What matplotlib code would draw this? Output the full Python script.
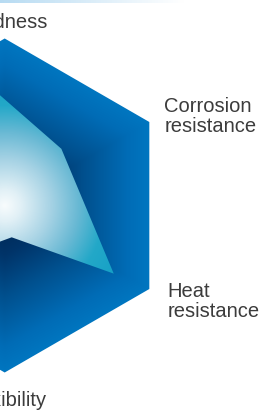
import numpy as np
import matplotlib.pyplot as plt
from matplotlib.patches import Polygon
from matplotlib.colors import LinearSegmentedColormap

plt.rcParams['font.family'] = ['Liberation Sans', 'DejaVu Sans']

# radar categories, clockwise from the top (left half of the chart is cut off in the picture)
categories = ['Hardness', 'Corrosion\nresistance', 'Heat\nresistance', 'Flexibility',
              'Strength', 'Wear\nresistance']
axis_deg = [90, 30, -30, -90, -150, 150]
outer_values = [1, 1, 1, 1, 1, 1]   # full scale

inner_deg = [101, 45, -32, -77.6, -138, 145]
inner_values = [0.78, 0.48, 0.77, 0.195, 0.52, 0.69]


def to_xy(deg, r):
    a = np.radians(deg)
    return np.column_stack([np.array(r) * np.cos(a), np.array(r) * np.sin(a)])


fig = plt.figure(figsize=(2.66, 4.13), dpi=100)
ax = fig.add_axes([0, 0, 1, 1])
ax.axis('off')

# colour ramps
hex_cmap = LinearSegmentedColormap.from_list('hexblue', [
    (0.0, (0/255, 35/255, 75/255)),
    (0.3, (0/255, 52/255, 105/255)),
    (0.55, (0/255, 80/255, 142/255)),
    (0.85, (0/255, 108/255, 182/255)),
    (1.0, (0/255, 118/255, 192/255))])
inner_cmap = LinearSegmentedColormap.from_list('innercyan', [
    (0.0, (248/255, 252/255, 253/255)),
    (0.12, (225/255, 240/255, 246/255)),
    (0.35, (165/255, 210/255, 228/255)),
    (0.55, (105/255, 185/255, 212/255)),
    (0.75, (35/255, 168/255, 200/255)),
    (1.0, (20/255, 160/255, 198/255))])

gx, gy = np.meshgrid(np.linspace(-1.1, 1.6, 700), np.linspace(-1.3, 1.3, 700))
ext = [-1.1, 1.6, -1.3, 1.3]

# outer hexagon with a hexagon-shaped gradient
hex_t = np.maximum.reduce([np.abs(gx * np.cos(np.radians(d)) + gy * np.sin(np.radians(d)))
                           for d in (0, 60, 120)]) / np.cos(np.radians(30))
hex_patch = Polygon(to_xy(axis_deg, outer_values), closed=True, facecolor='none', edgecolor='none')
ax.add_patch(hex_patch)
im = ax.imshow(np.clip(hex_t, 0, 1), cmap=hex_cmap, vmin=0, vmax=1, extent=ext,
               origin='lower', interpolation='bilinear', aspect='auto')
im.set_clip_path(hex_patch)

# inner profile with a radial gradient
rad_t = np.hypot(gx, gy) / 0.8
inner_patch = Polygon(to_xy(inner_deg, inner_values), closed=True, facecolor='none', edgecolor='none')
ax.add_patch(inner_patch)
im2 = ax.imshow(np.clip(rad_t, 0, 1), cmap=inner_cmap, vmin=0, vmax=1, extent=ext,
                origin='lower', interpolation='bilinear', aspect='auto')
im2.set_clip_path(inner_patch)

ax.set_xlim(-0.0281, 1.5647)
ax.set_ylim(-1.2425, 1.2305)

# category labels (the two on the left fall outside the crop, so they are skipped)
txt = dict(fontsize=14.5, color='#3c3c3c', linespacing=1.08)
for name, deg in zip(categories, axis_deg):
    x, y = to_xy([deg], [1.0])[0]
    if deg == 90:
        ax.text(x, y + 0.04, name, ha='center', va='bottom', **txt)
    elif deg == -90:
        ax.text(x, y - 0.11, name, ha='center', va='top', **txt)
    elif deg == 30:
        ax.text(x + 0.09, y + 0.035, name, ha='left', va='center', **txt)
    elif deg == -30:
        ax.text(x + 0.11, y - 0.075, name, ha='left', va='center', **txt)

# thin light-blue band along the top edge
band = fig.add_axes([0, 1 - 3.5 / 413, 0.69, 3.5 / 413])
band.imshow(np.linspace(0, 1, 200)[None, :],
            cmap=LinearSegmentedColormap.from_list('band', [(0.72, 0.86, 0.95), (1, 1, 1)]),
            aspect='auto', extent=[0, 1, 0, 1])
band.axis('off')

fig.savefig('out.png', dpi=100)
